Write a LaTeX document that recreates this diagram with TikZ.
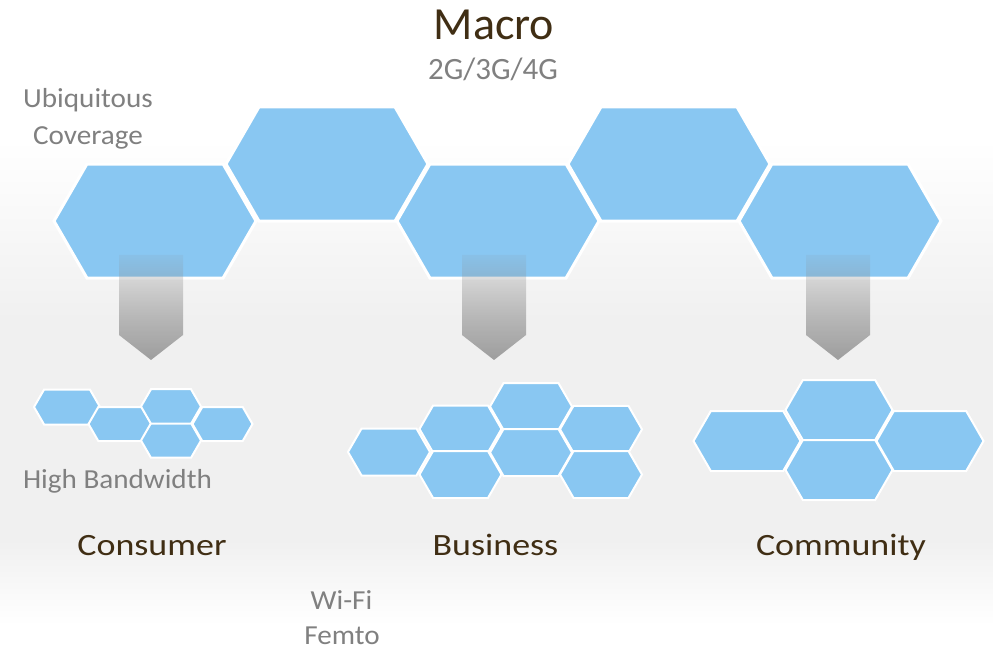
\documentclass[tikz,border=0pt]{standalone}
\usepackage{fontspec}
\setmainfont{Carlito}
\usetikzlibrary{fadings}
\definecolor{hexblue}{RGB}{137,199,242}
\definecolor{titlebrown}{RGB}{64,46,20}
\definecolor{labelgray}{RGB}{128,128,128}
\definecolor{bggray}{RGB}{240,240,240}
\tikzfading[name=arrowfade, top color=transparent!90, bottom color=transparent!0]
\tikzset{
  bighex/.style={fill=hexblue, draw=white, line width=3pt, line join=miter},
  smallhex/.style={fill=hexblue, draw=white, line width=2pt, line join=miter},
  arrowbody/.style={top color=black!45, bottom color=black!38, path fading=arrowfade},
  title/.style={text=titlebrown, inner sep=0pt, anchor=base, font=\fontsize{31}{36}\selectfont},
  note/.style={text=labelgray, inner sep=0pt, anchor=base, font=\fontsize{27.5}{33}\selectfont},
}
% name, style, cx, cy, w, h
\newcommand\hexcell[6]{%
  \coordinate (#1) at (#3,#4);
  \pgfmathsetmacro\hw{#5/2}%
  \pgfmathsetmacro\hh{#6/2}%
  \pgfmathsetmacro\ti{\hw-\hh*0.57735}%
  \draw[#2] (#3-\hw,#4) -- (#3-\ti,#4-\hh) -- (#3+\ti,#4-\hh) -- (#3+\hw,#4)
     -- (#3+\ti,#4+\hh) -- (#3-\ti,#4+\hh) -- cycle;}
% name, cx
\newcommand\downarrowshape[2]{%
  \coordinate (#1) at (#2,255);
  \path[arrowbody] (#2-32,255) -- (#2+32,255) -- (#2+32,335) -- (#2,360) -- (#2-32,335) -- cycle;}
\newcommand\wide[1]{\scalebox{1.06}[1]{#1}}
\newcommand\wider[1]{\scalebox{1.16}[1]{#1}}
\begin{document}
\begin{tikzpicture}[x=1pt, y=-1pt]
\useasboundingbox (0,0) rectangle (993,650);
% background
\fill[white] (0,0) rectangle (993,650);
\shade[top color=white, bottom color=bggray] (0,140) rectangle (993,320);
\fill[bggray] (0,320) rectangle (993,540);
\shade[top color=bggray, bottom color=white] (0,540) rectangle (993,625);
% macro cells
\hexcell{m1}{bighex}{155}{221}{202}{114}
\hexcell{m2}{bighex}{327}{164}{202}{114}
\hexcell{m3}{bighex}{498}{221}{202}{114}
\hexcell{m4}{bighex}{669}{164}{202}{114}
\hexcell{m5}{bighex}{840}{221}{202}{114}
% arrows
\downarrowshape{a1}{151}
\downarrowshape{a2}{494}
\downarrowshape{a3}{838}
% consumer cells
\hexcell{c1}{smallhex}{67}{407}{66}{35}
\hexcell{c2}{smallhex}{120}{424}{63}{34}
\hexcell{c3}{smallhex}{171}{406.5}{60}{35}
\hexcell{c4}{smallhex}{222.5}{424}{60}{34}
\hexcell{c5}{smallhex}{171}{440.5}{60}{34}
% business cells
\hexcell{b1}{smallhex}{389}{452}{82}{47}
\hexcell{b2}{smallhex}{460.5}{429}{82}{47}
\hexcell{b3}{smallhex}{460.5}{474.5}{82}{47}
\hexcell{b4}{smallhex}{531}{406.5}{82}{47}
\hexcell{b5}{smallhex}{531}{452.5}{82}{47}
\hexcell{b6}{smallhex}{601}{429.3}{82}{47}
\hexcell{b7}{smallhex}{601}{474.5}{82}{47}
% community cells
\hexcell{k1}{smallhex}{747}{441}{107}{60}
\hexcell{k2}{smallhex}{839}{410}{107}{60}
\hexcell{k3}{smallhex}{839}{470}{107}{60}
\hexcell{k4}{smallhex}{930}{441}{107}{60}
% texts
\node[title, font=\fontsize{46}{55}\selectfont] (macro) at (494,40) {Macro};
\node[note, font=\fontsize{31}{36}\selectfont] (gen) at (493,80) {2G/3G/4G};
\node[note] (ubi) at (88,108) {\wide{Ubiquitous}};
\node[note] (cov) at (88,144) {\wide{Coverage}};
\node[note] (hbw) at (117.5,488) {\wide{High Bandwidth}};
\node[title] (consumer) at (152,555) {\wider{Consumer}};
\node[title] (business) at (495.5,555) {\wider{Business}};
\node[title] (community) at (841,555) {\wider{Community}};
\node[note] (wifi) at (341.5,609) {\wide{Wi-Fi}};
\node[note] (femto) at (342,644) {\wide{Femto}};
\end{tikzpicture}
\end{document}
